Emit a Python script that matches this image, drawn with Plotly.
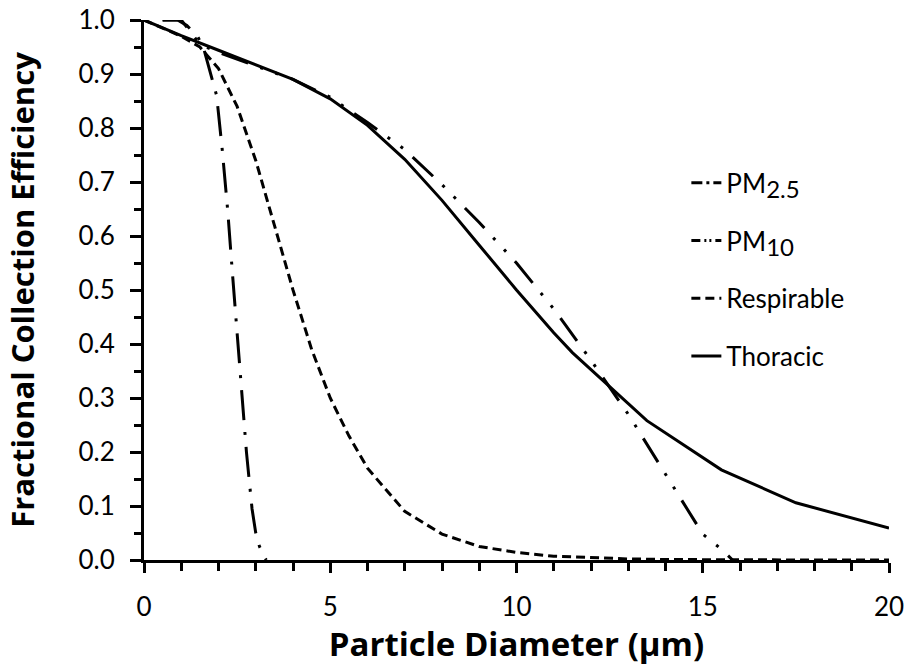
import plotly.graph_objects as go

# ---- data ----
pm25_x = [0.5, 0.9, 1.15, 1.45, 1.6, 1.8, 1.95, 2.1, 2.25, 2.375, 2.5, 2.625, 2.75, 2.9, 3.0, 3.1, 3.2, 3.28]
pm25_y = [1.0, 1.0, 0.99, 0.968, 0.948, 0.895, 0.86, 0.76, 0.645, 0.53, 0.42, 0.31, 0.20, 0.095, 0.05, 0.025, 0.01, 0.0]

pm10_x = [0.5, 1.0, 1.5, 2, 3, 4, 5, 6, 7, 8, 9, 10, 11, 12, 13, 14, 14.5, 15, 15.5, 15.8]
pm10_y = [1.0, 1.0, 0.955, 0.94, 0.915, 0.89, 0.857, 0.81, 0.76, 0.695, 0.625, 0.55, 0.465, 0.37, 0.27, 0.16, 0.105, 0.048, 0.02, 0.0]

resp_x = [0, 1, 1.5, 2, 2.5, 3, 3.5, 4, 4.5, 5, 5.5, 6, 7, 8, 9, 10, 11, 12, 13, 14, 15, 16, 20]
resp_y = [1.0, 0.97, 0.95, 0.91, 0.84, 0.74, 0.62, 0.50, 0.39, 0.30, 0.23, 0.17, 0.09, 0.048, 0.025, 0.014, 0.007, 0.004, 0.002, 0.001, 0.0005, 0.0003, 0.0]

thor_x = [0, 1, 2, 3, 4, 5, 6, 7, 8, 9, 10, 11, 11.5, 13.5, 15.5, 17.5, 20]
thor_y = [1.0, 0.971, 0.944, 0.917, 0.89, 0.854, 0.805, 0.742, 0.666, 0.583, 0.50, 0.421, 0.384, 0.258, 0.167, 0.106, 0.059]

names = ["PM<sub><span style='font-size:24px'>2.5</span></sub>",
         "PM<sub><span style='font-size:24px'>10</span></sub>",
         "Respirable", "Thoracic"]
dashes = ["30px,12px,3px,12px", "28px,13px,3px,13px,3px,13px", "9px,5px", "solid"]
legend_dashes = ["11px,4px,3px,4px", "9px,4px,2px,3px,2px,4px", "9px,5px", "solid"]

fig = go.Figure()
series = [(pm25_x, pm25_y), (pm10_x, pm10_y), (resp_x, resp_y), (thor_x, thor_y)]
for i, ((xs, ys), nm, ds) in enumerate(zip(series, names, dashes)):
    fig.add_trace(go.Scatter(
        x=xs, y=ys, mode="lines", name=nm, legendgroup=f"g{i}", showlegend=False,
        line=dict(color="black", width=3, dash=ds),
    ))
# legend entries (same series, with a dash pattern scaled to the short legend sample)
for i, (nm, ds) in enumerate(zip(names, legend_dashes)):
    fig.add_trace(go.Scatter(
        x=[None], y=[None], mode="lines", name=nm, legendgroup=f"g{i}", showlegend=True,
        line=dict(color="black", width=3, dash=ds), hoverinfo="skip",
    ))

FONT = "Lato"
TFONT = "Open Sans"
fig.update_layout(
    width=911, height=666,
    margin=dict(l=144, r=22, t=20, b=106),
    plot_bgcolor="white", paper_bgcolor="white",
    font=dict(family=FONT, color="black", size=26),
    legend=dict(x=0.728, y=0.742, xanchor="left", yanchor="top",
                font=dict(size=26, family=FONT, color="black"),
                tracegroupgap=21, bgcolor="rgba(0,0,0,0)"),
    showlegend=True,
)
fig.update_xaxes(
    range=[0, 20], tick0=0, dtick=5, automargin=False,
    showline=True, linewidth=3, linecolor="black",
    ticks="outside", ticklen=10, tickwidth=3, tickcolor="black",
    minor=dict(dtick=1, ticks="outside", ticklen=8, tickwidth=2.5, tickcolor="black", showgrid=False),
    showgrid=False, zeroline=False,
    tickfont=dict(size=26, family=FONT, color="black"),
    ticklabelstandoff=12,
    title=dict(text="Particle Diameter (µm)", font=dict(size=33, family=TFONT, color="black", weight="bold"), standoff=8),
)
fig.update_yaxes(
    range=[0, 1], tick0=0, dtick=0.1, tickformat=".1f", automargin=False,
    showline=True, linewidth=3, linecolor="black",
    ticks="outside", ticklen=11, tickwidth=3, tickcolor="black",
    minor=dict(dtick=0.05, ticks="outside", ticklen=7, tickwidth=2.5, tickcolor="black", showgrid=False),
    showgrid=False, zeroline=False,
    tickfont=dict(size=26, family=FONT, color="black"),
    ticklabelstandoff=10,
    title=dict(text="Fractional Collection Efficiency", font=dict(size=31, family=TFONT, color="black", weight="bold"), standoff=35),
)

fig.write_html("out.html", config={"displayModeBar": False},
               post_script="document.body.style.margin='0';document.body.style.overflow='hidden';")
